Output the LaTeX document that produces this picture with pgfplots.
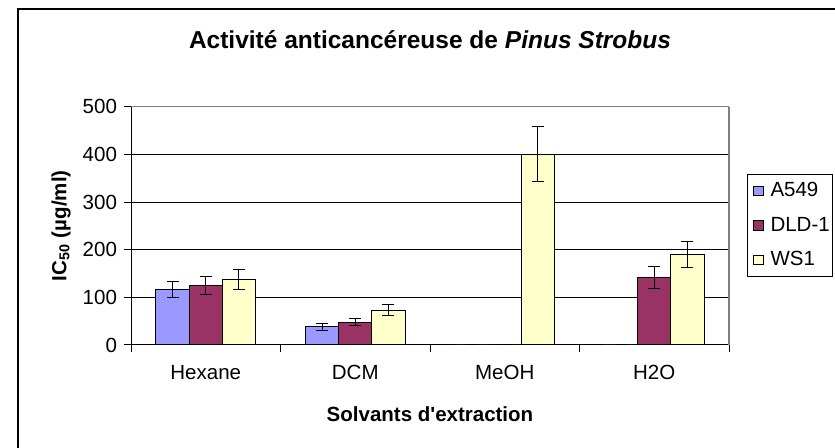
\documentclass[border=0pt]{standalone}
\usepackage{pgfplots}
\usepackage{pgfplotstable}
\pgfplotsset{compat=1.18}
\usepackage{fontspec}
\setmainfont{Liberation Sans}
\definecolor{cA}{HTML}{9999FF}
\definecolor{cB}{HTML}{993366}
\definecolor{cC}{HTML}{FFFFCC}
\definecolor{gridgray}{HTML}{808080}
\newcommand{\tf}{\fontsize{10.25}{12}\selectfont}
\newcommand{\legtxt}[1]{\hspace{1.5pt}\makebox[26pt][l]{#1}}
\pgfplotstableread{
x y e
0 117 17
1 38 7
2 0 0
3 0 0
}\tA
\pgfplotstableread{
x y e
0 124 19
1 48 7
2 0 0
3 141 23
}\tB
\pgfplotstableread{
x y e
0 138 21
1 73 11
2 400 58
3 190 27
}\tC
\begin{document}
\begin{tikzpicture}[x=1pt,y=1pt]
\useasboundingbox (0,0) rectangle (417.5,224);
\clip (0,0) rectangle (417.5,224);
\draw[line width=1pt] (9,-20) rectangle (440,219.5);
\begin{axis}[
 at={(65.5pt,51.5pt)}, anchor=south west,
 scale only axis, width=299pt, height=119.15pt,
 ybar=0pt, bar width=0.2222,
 xmin=-0.5, xmax=3.5, ymin=0, ymax=500,
 axis x line*=bottom, axis y line*=left,
 axis line style={black, line width=0.5pt},
 xtick={0,1,2,3}, xticklabels={Hexane,DCM,MeOH,H2O},
 xticklabel style={yshift=-3pt},
 minor xtick={-0.5,0.5,1.5,2.5,3.5},
 major x tick style={draw=none},
 minor x tick style={black, line width=0.5pt},
 minor tick length=3.5pt,
 ytick={0,100,...,400},
 extra y ticks={500},
 extra y tick style={grid=major, major grid style={gridgray, line width=0.7pt}},
 extra x ticks={3.5}, extra x tick labels={},
 extra x tick style={grid=major, major grid style={gridgray, line width=0.7pt}, major tick length=0pt},
 ymajorgrids, major grid style={black, line width=0.5pt},
 major tick length=3.5pt, tick align=outside,
 tick style={black, line width=0.5pt},
 ticklabel style={font=\tf},
 /pgf/number format/assume math mode=true,
 title={Activité anticancéreuse de \textit{Pinus Strobus}},
 title style={at={(0.5,1.192)}, anchor=base, font=\bfseries\fontsize{12.25}{14}\selectfont},
 xlabel={Solvants d\textquotesingle extraction},
 xlabel style={at={(0.5,-0.319)}, anchor=base, font=\bfseries\tf},
 ylabel={IC\textsubscript{50} (µg/ml)},
 ylabel style={at={(-0.117,0.5)}, anchor=center, font=\bfseries\tf},
 legend style={at={(1.0296,0.7176)}, anchor=north west, draw=black, line width=0.6pt, fill=white, font=\tf, row sep=4.5pt, legend cell align=left},
 legend image code/.code={\draw[#1, draw=black, line width=0.5pt] (0pt,-2.3pt) rectangle (4.6pt,2.3pt);},
 every axis plot/.append style={draw=black, line width=0.5pt},
 error bars/y dir=both, error bars/y explicit,
 error bars/error bar style={black, line width=0.5pt},
 error bars/error mark options={rotate=90, mark size=3pt, black, line width=0.5pt},
]
\addplot[fill=cA] table[x=x, y=y, y error=e] {\tA};
\addplot[fill=cB] table[x=x, y=y, y error=e] {\tB};
\addplot[fill=cC] table[x=x, y=y, y error=e] {\tC};
\legend{\legtxt{A549},\legtxt{DLD-1},\legtxt{WS1}}
\end{axis}
\end{tikzpicture}
\end{document}
